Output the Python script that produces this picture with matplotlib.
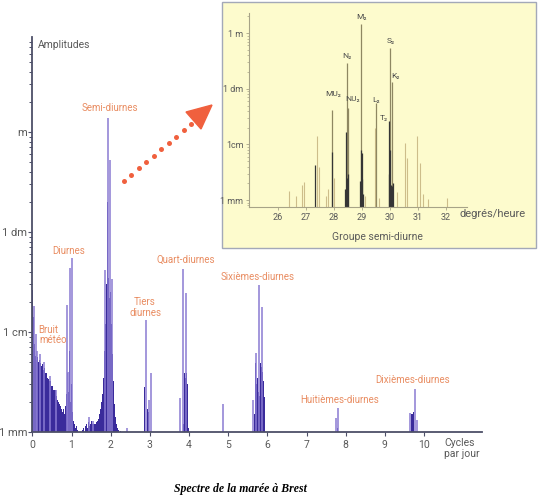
import numpy as np
import matplotlib.pyplot as plt
from matplotlib.patches import Rectangle, Polygon
from matplotlib.lines import Line2D

# spectre principal : frequences en cycles/jour, amplitudes en mm
bruit_debut = 0.0
bruit_pas = 0.025
bruit_amp = [26, 14, 7.5, 5.8, 5.2, 5.6, 5.0, 5.3, 4.9, 4.6,
             4.8, 4.2, 4.4, 3.8, 3.9, 3.5, 3.4, 3.1, 3.2, 2.8,
             2.9, 2.6, 2.5, 2.6, 2.3, 2.2, 2.1, 2.0, 1.9, 1.8,
             1.7, 1.6, 1.7, 1.5, 1.8, 2.4, 3.9, 2.5, 6.5, 2.0,
             3.0, 1.6, 1.3, 1.2, 1.1, 1.15, 1.05, 0.95, 0.9, 1.0,
             0.95, 1.05, 1.1, 1.0, 1.15, 1.2, 1.1, 1.25, 1.15, 1.2,
             1.3, 1.15, 1.2, 1.1, 1.2, 1.15, 1.25, 1.3, 1.35, 1.5,
             1.7, 2.0, 2.4, 3.5, 6.5, 12, 30, 200, 35, 22,
             25, 12, 6.0, 3.2, 1.9, 1.4, 1.2, 1.1, 1.05, 1.0,
             1.02, 0.98]

# harmoniques superieures (barres foncees)
harm_freq = [2.27, 2.86, 2.93, 2.95, 2.97,
             3.82, 3.86, 3.89, 3.91, 3.93, 3.95, 3.97, 3.99,
             5.66, 5.68, 5.70, 5.72, 5.74, 5.76, 5.78, 5.80, 5.82, 5.84,
             5.86, 5.88, 5.90, 5.93,
             7.74, 7.80, 9.68, 9.70, 9.73]
harm_amp = [1.0, 2.85, 1.7, 1.55, 1.6,
            13.8, 1.2, 3.9, 3.5, 3.9, 3.0, 1.5, 1.1,
            1.07, 1.5, 4.9, 3.0, 3.5, 19.5, 2.5, 2.3, 4.9, 4.5,
            3.8, 4.0, 3.2, 2.25,
            1.0, 1.1, 1.5, 1.5, 1.6]

# raies (traits clairs)
raies_freq = [0.04, 0.08, 0.12, 0.20, 0.30, 0.45, 0.60,
              0.89, 0.92, 0.96, 1.00, 1.44, 1.54,
              1.86, 1.92, 1.99, 2.03, 2.42,
              2.89, 2.99, 3.02, 3.78, 3.85, 3.93, 4.87,
              5.64, 5.72, 5.78, 5.86, 7.76, 7.81, 9.65, 9.76, 9.82]
raies_amp = [18, 9.5, 6.5, 6.0, 5.0, 3.6, 2.6,
             18.6, 4.0, 44, 55, 1.4, 1.3,
             42, 1380, 525, 34, 1.1,
             13.2, 2.1, 3.9, 2.2, 43, 24.5, 1.9,
             2.1, 6.2, 29.5, 17.9, 1.37, 1.73, 1.54, 2.67, 1.32]

x_ticks = list(range(11))
y_ticks = [1, 10, 100, 1000]
y_labels = ['1 mm', '1 cm', '1 dm', 'm']

# encart : groupe semi-diurne (degres/heure, mm)
ondes_nom = ['MU₂', 'N₂', 'NU₂', 'M₂', 'L₂', 'S₂', 'K₂']
ondes_deg = [27.94, 28.46, 28.52, 28.98, 29.51, 30.00, 30.09]
ondes_amp = [41, 295, 45, 1470, 55, 540, 130]
fonce_deg = [27.34, 27.93, 28.40, 28.44, 28.47, 28.50, 28.93, 28.96, 28.99,
             29.02, 29.05, 29.96, 29.98, 30.02, 30.05, 30.08, 30.11]
fonce_amp = [4.3, 7.4, 1.6, 17, 2.5, 3.0, 2.2, 8.0, 7.0,
             2.4, 1.3, 26, 3.0, 8.0, 1.9, 1.8, 2.0]
clair_deg = [26.41, 26.65, 26.88, 26.93, 27.41, 27.48, 27.72, 27.80, 28.02,
             29.10, 29.46, 29.63, 30.27, 30.54, 30.60, 30.98, 31.07, 31.17,
             31.37, 32.03]
clair_amp = [1.45, 1.2, 1.9, 2.1, 14, 4.0, 1.2, 1.6, 2.5,
             1.2, 20, 1.1, 1.4, 10.7, 5.8, 14, 4.7, 1.3,
             1.05, 1.1]
encart_xticks = [26, 27, 28, 29, 30, 31, 32]
encart_yticks = [1, 10, 100, 1000]
encart_ylabels = ['1 mm', '1cm', '1 dm', '1 m']

W, H = 538, 499
def px(x, y):
    return x / W, 1 - y / H

orange = '#e98d62'
fonce = '#3a2b9b'
clair = '#8a7bd2'
axe = '#4d4f68'
gris = '#5a5a5a'
plt.rcParams['font.family'] = ['Roboto', 'DejaVu Sans']

fig = plt.figure(figsize=(W / 100, H / 100), dpi=100)

# fond jaune de l'encart, sous les axes
fig.add_artist(Rectangle(px(222, 248), 314 / W, 246 / H, transform=fig.transFigure,
                         facecolor='#fdfbcd', edgecolor='#a3a8b8', linewidth=1,
                         zorder=-1))

ax = fig.add_axes([32 / W, 1 - 432 / H, 450 / W, 395 / H])
ax.set_yscale('log')

bruit_freq = bruit_debut + bruit_pas * np.arange(len(bruit_amp))
ax.bar(bruit_freq, np.array(bruit_amp) - 0.5, bottom=0.5, width=bruit_pas * 1.25,
       color=fonce, linewidth=0)
ax.bar(harm_freq, np.array(harm_amp) - 0.5, bottom=0.5, width=0.024,
       color=fonce, linewidth=0)
ax.vlines(raies_freq, 0.5, raies_amp, color=clair, linewidth=1.1)

ax.set_xlim(-0.01, 11.48)
ax.set_ylim(1, 8900)
for s in ['top', 'right']:
    ax.spines[s].set_visible(False)
for s in ['left', 'bottom']:
    ax.spines[s].set_color(axe)
    ax.spines[s].set_linewidth(1.3)
ax.set_xticks(x_ticks)
ax.set_yticks(y_ticks)
ax.set_yticklabels(y_labels)
ax.tick_params(axis='x', length=3, width=0.8, color=axe, pad=3,
               labelsize=7.5, labelcolor=gris)
ax.tick_params(axis='y', which='major', length=3, width=0.8, color=axe, pad=0.5,
               labelsize=8, labelcolor=gris)
ax.tick_params(axis='y', which='minor', length=2, width=0.7, color=axe)
ax.yaxis.set_minor_formatter(plt.NullFormatter())
ax.patch.set_alpha(0)

fig.text(*px(38, 45), 'Amplitudes', fontsize=7.5, color=gris, va='center')
labels = [('Semi-diurnes', 110, 108, 'center'), ('Diurnes', 69, 251, 'center'),
          ('Quart-diurnes', 186, 260, 'center'), ('Tiers', 145, 302, 'center'),
          ('diurnes', 145, 313, 'center'), ('Sixièmes-diurnes', 258, 277, 'center'),
          ('Bruit', 38, 330, 'left'), ('météo', 39, 340, 'left'),
          ('Huitièmes-diurnes', 340, 400, 'center'),
          ('Dixièmes-diurnes', 413, 380, 'center')]
for t, x, y, ha in labels:
    fig.text(*px(x, y), t, fontsize=7, color=orange, ha=ha, va='center')
fig.text(*px(444, 443), 'Cycles', fontsize=7.5, color=gris, va='center')
fig.text(*px(444, 454), 'par jour', fontsize=7.5, color=gris, va='center')

# fleche pointillee vers l'encart
dx = np.linspace(124, 191, 10)
dy = np.linspace(181, 124, 10)
fig.add_artist(Line2D(dx / W, 1 - dy / H, linestyle='none', marker='o',
                      markersize=3.6, color='#f0603e', markeredgewidth=0))
fig.add_artist(Polygon([px(212, 105), px(186, 112), px(201, 129)],
                       closed=True, color='#f0603e', transform=fig.transFigure))

# encart
ai = fig.add_axes([249 / W, 1 - 207 / H, 218 / W, 194 / H])
ai.set_yscale('log')
ai.patch.set_alpha(0)
ai.vlines(clair_deg, 0.5, clair_amp, color='#cdbd8a', linewidth=0.8)
ai.vlines(ondes_deg, 0.5, ondes_amp, color='#8e8762', linewidth=0.9)
ai.vlines(fonce_deg, 0.5, fonce_amp, color='#353535', linewidth=0.9)
ai.set_xlim(24.98, 32.75)
ai.set_ylim(0.75, 2300)
for s in ['top', 'right']:
    ai.spines[s].set_visible(False)
for s in ['left', 'bottom']:
    ai.spines[s].set_color('#a7a387')
    ai.spines[s].set_linewidth(0.8)
ai.set_xticks(encart_xticks)
ai.set_yticks(encart_yticks)
ai.set_yticklabels(encart_ylabels)
ai.yaxis.set_minor_formatter(plt.NullFormatter())
ai.tick_params(axis='x', length=2, width=0.6, color='#a7a387', pad=2,
               labelsize=6.5, labelcolor=gris)
ai.tick_params(axis='y', which='major', length=2.5, width=0.6, color='#a7a387',
               pad=1.5, labelsize=6.5, labelcolor=gris)
ai.tick_params(axis='y', which='minor', length=1.5, width=0.5, color='#a7a387')

noms_pos = {'MU₂': (333, 94), 'N₂': (347, 56), 'NU₂': (353, 99), 'M₂': (362, 17),
            'L₂': (376, 100), 'S₂': (391, 41), 'K₂': (395, 76)}
for n in ondes_nom:
    fig.text(*px(*noms_pos[n]), n, fontsize=6, color='#4a4a4a', ha='center', va='center')
fig.text(*px(384, 118), 'T₂', fontsize=6, color='#4a4a4a', ha='center', va='center')
fig.text(*px(459, 214), 'degrés/heure', fontsize=8, color=gris, va='center')
fig.text(*px(377, 237), 'Groupe semi-diurne', fontsize=7.5, color=gris,
         ha='center', va='center')

fig.text(*px(240, 489), 'Spectre de la marée à Brest', fontsize=8.5,
         family='Liberation Serif', style='italic', weight='bold',
         ha='center', va='center')

fig.savefig('out.png', dpi=100)
